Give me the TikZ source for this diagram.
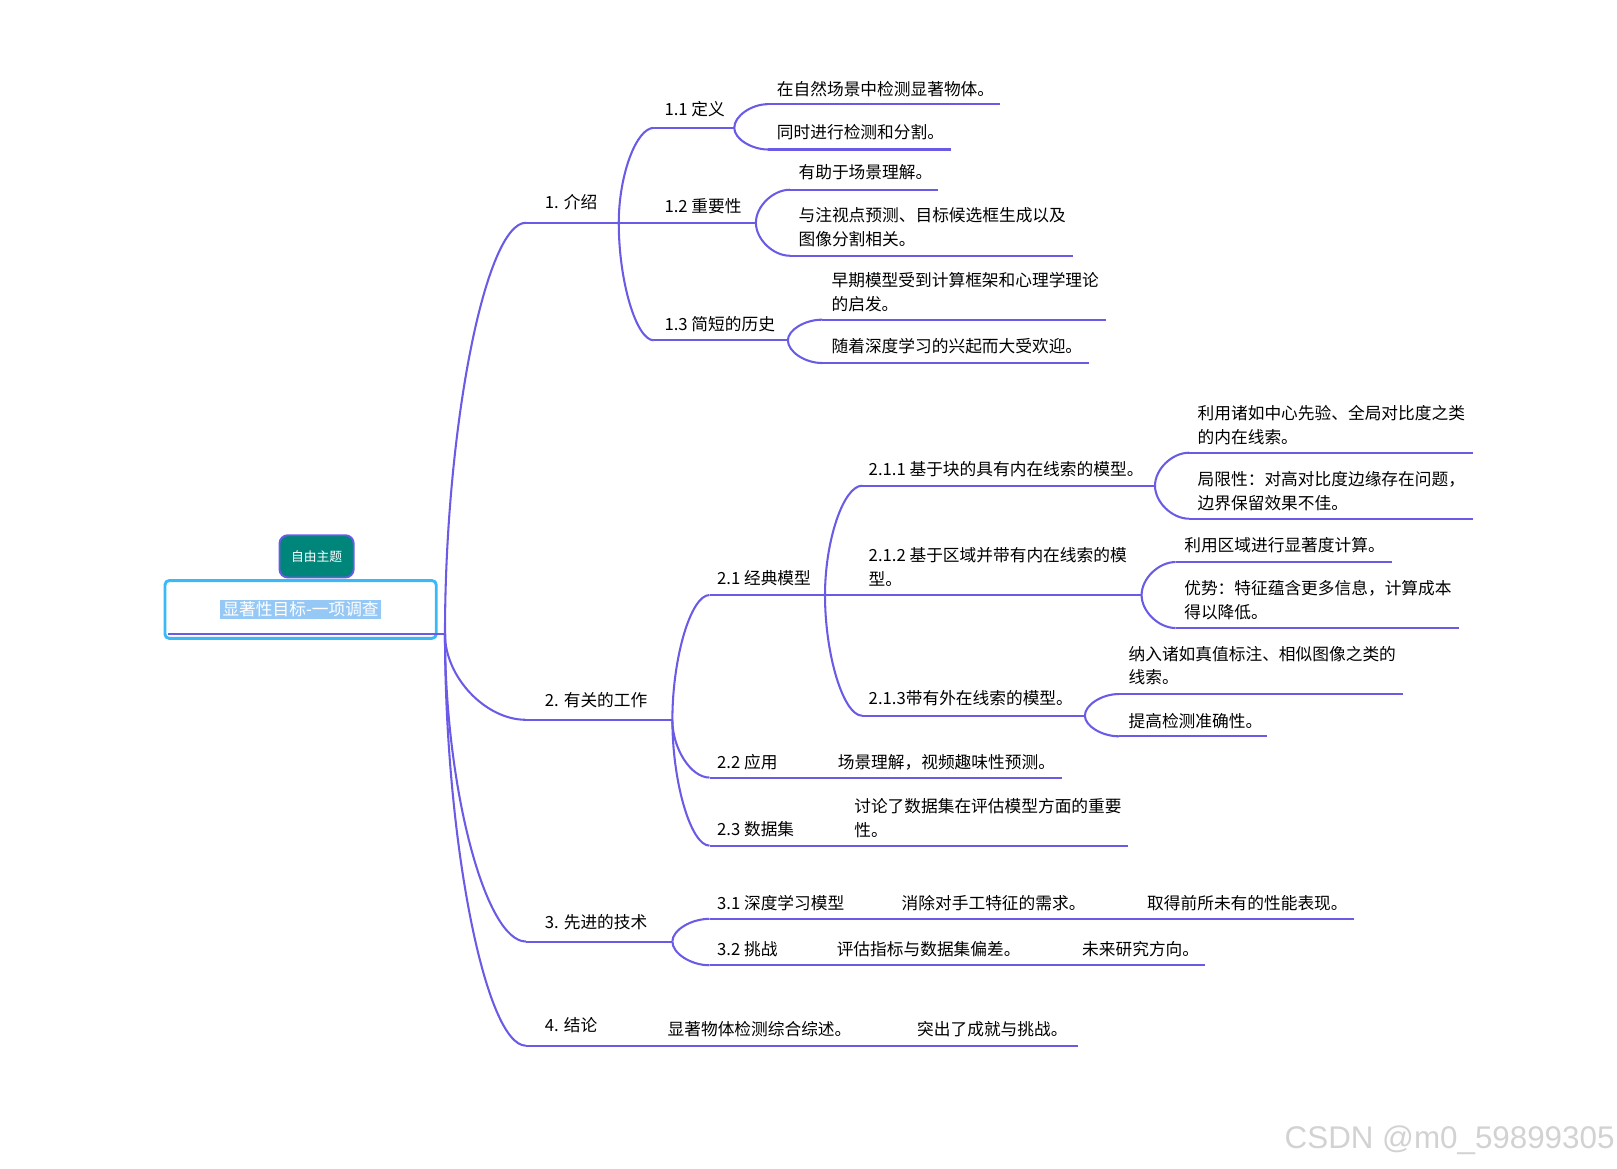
\documentclass[tikz,border=0pt]{standalone}
\usepackage{fontspec}
\setmainfont{Noto Sans CJK SC}
\newfontfamily\wmfont{Liberation Sans}
\usetikzlibrary{calc}
\definecolor{linkc}{HTML}{6A5BE6}
\definecolor{cyanb}{HTML}{3BB9F7}
\definecolor{hl}{HTML}{96C8F5}
\definecolor{teal}{HTML}{00857A}
\newcommand\mmcurve[2]{\draw[link] (#1) .. controls ($(#1)!0.5!(#1|-#2)$) and ($(#2)!0.5!(#1|-#2)$) .. (#2);}
\begin{document}
\begin{tikzpicture}[x=0.5pt,y=-0.5pt,
  link/.style={draw=linkc,line width=1pt},
  lbl/.style={anchor=west,inner sep=0pt,align=left,font=\fontsize{8.1pt}{11.5pt}\selectfont},
  rootbox/.style={draw=cyanb,line width=1.4pt,rounded corners=2pt,minimum width=131.5pt,minimum height=28pt,inner sep=0pt,font=\fontsize{8.1pt}{11.5pt}\selectfont},
  tagbox/.style={draw=linkc,fill=teal,line width=0.9pt,rounded corners=4pt,minimum width=36pt,minimum height=20.5pt,inner sep=0pt,text=white,font=\fontsize{6.2pt}{8pt}\selectfont}]
\useasboundingbox (0,0) rectangle (1568,1133);
% root and tag
\node[rootbox] (root) at (291.5,591) {\fboxsep=1pt\colorbox{hl}{\color{white}显著性目标-一项调查}};
\node[tagbox] (tag) at (307,539.5) {自由主题};
\coordinate (Rl) at (163,615);
\coordinate (R) at (431.5,615);
\draw[link] (Rl) -- (R);
% coordinates of lines
\coordinate (t1s) at (510,216); \coordinate (b1) at (600,216);
\coordinate (t2s) at (510,698); \coordinate (b2) at (652,698);
\coordinate (t3s) at (510,913); \coordinate (b3) at (652,913);
\coordinate (t4s) at (510,1014); \coordinate (t4e) at (1045,1014);
\coordinate (t11s) at (634,124); \coordinate (b11) at (712,124);
\coordinate (b12) at (733,216);
\coordinate (t13s) at (634,330); \coordinate (b13) at (764,330);
\coordinate (t111s) at (745,101); \coordinate (t111e) at (970,101);
\coordinate (t112s) at (745,145); \coordinate (t112e) at (922,145);
\coordinate (t121s) at (766,184); \coordinate (t121e) at (910,184);
\coordinate (t122s) at (766,248); \coordinate (t122e) at (1040,248);
\coordinate (t131s) at (797,310); \coordinate (t131e) at (1072,310);
\coordinate (t132s) at (797,352); \coordinate (t132e) at (1056,352);
\coordinate (t21s) at (688,577); \coordinate (b21) at (800,577);
\coordinate (t22s) at (688,754); \coordinate (t22e) at (1030,754);
\coordinate (t23s) at (688,820); \coordinate (t23e) at (1094,820);
\coordinate (t211s) at (836,471); \coordinate (b211) at (1120,471);
\coordinate (b212) at (1107,577);
\coordinate (t213s) at (836,694); \coordinate (b213) at (1052,694);
\coordinate (t2111s) at (1153,439); \coordinate (t2111e) at (1428,439);
\coordinate (t2112s) at (1153,503); \coordinate (t2112e) at (1428,503);
\coordinate (t2121s) at (1140,545); \coordinate (t2121e) at (1350,545);
\coordinate (t2122s) at (1140,609); \coordinate (t2122e) at (1415,609);
\coordinate (t2131s) at (1085,673); \coordinate (t2131e) at (1360,673);
\coordinate (t2132s) at (1085,714); \coordinate (t2132e) at (1229,714);
\coordinate (t31s) at (688,891); \coordinate (t31e) at (1313,891);
\coordinate (t32s) at (688,936); \coordinate (t32e) at (1168,936);
% connectors
\mmcurve{R}{t1s} \draw[link] (t1s) -- (b1);
\mmcurve{R}{t2s} \draw[link] (t2s) -- (b2);
\mmcurve{R}{t3s} \draw[link] (t3s) -- (b3);
\mmcurve{R}{t4s} \draw[link] (t4s) -- (t4e);
\mmcurve{b1}{t11s} \draw[link] (t11s) -- (b11);
\draw[link] (b1) -- (b12);
\mmcurve{b1}{t13s} \draw[link] (t13s) -- (b13);
\mmcurve{b11}{t111s} \draw[link] (t111s) -- (t111e);
\mmcurve{b11}{t112s} \draw[link] (t112s) -- (t112e);
\mmcurve{b12}{t121s} \draw[link] (t121s) -- (t121e);
\mmcurve{b12}{t122s} \draw[link] (t122s) -- (t122e);
\mmcurve{b13}{t131s} \draw[link] (t131s) -- (t131e);
\mmcurve{b13}{t132s} \draw[link] (t132s) -- (t132e);
\mmcurve{b2}{t21s} \draw[link] (t21s) -- (b21);
\mmcurve{b2}{t22s} \draw[link] (t22s) -- (t22e);
\mmcurve{b2}{t23s} \draw[link] (t23s) -- (t23e);
\mmcurve{b21}{t211s} \draw[link] (t211s) -- (b211);
\draw[link] (b21) -- (b212);
\mmcurve{b21}{t213s} \draw[link] (t213s) -- (b213);
\mmcurve{b211}{t2111s} \draw[link] (t2111s) -- (t2111e);
\mmcurve{b211}{t2112s} \draw[link] (t2112s) -- (t2112e);
\mmcurve{b212}{t2121s} \draw[link] (t2121s) -- (t2121e);
\mmcurve{b212}{t2122s} \draw[link] (t2122s) -- (t2122e);
\mmcurve{b213}{t2131s} \draw[link] (t2131s) -- (t2131e);
\mmcurve{b213}{t2132s} \draw[link] (t2132s) -- (t2132e);
\mmcurve{b3}{t31s} \draw[link] (t31s) -- (t31e);
\mmcurve{b3}{t32s} \draw[link] (t32s) -- (t32e);
% labels
\node[lbl] (n1) at (528,196) {1. 介绍};
\node[lbl] (n2) at (528,679) {2. 有关的工作};
\node[lbl] (n3) at (528,894) {3. 先进的技术};
\node[lbl] (n4) at (528,994) {4. 结论};
\node[lbl] (n11) at (644,106) {1.1 定义};
\node[lbl] (n12) at (644,200) {1.2 重要性};
\node[lbl] (n13) at (644,314) {1.3 简短的历史};
\node[lbl] (n111) at (753,86) {在自然场景中检测显著物体。};
\node[lbl] (n112) at (753,128) {同时进行检测和分割。};
\node[lbl] (n121) at (774,167) {有助于场景理解。};
\node[lbl] (n122) at (774,220.5) {与注视点预测、目标候选框生成以及\\图像分割相关。};
\node[lbl] (n131) at (806,283) {早期模型受到计算框架和心理学理论\\的启发。};
\node[lbl] (n132) at (806,336) {随着深度学习的兴起而大受欢迎。};
\node[lbl] (n21) at (695,561) {2.1 经典模型};
\node[lbl] (n22) at (695,739) {2.2 应用};
\node[lbl] (n23) at (695,804) {2.3 数据集};
\node[lbl] (n211) at (842,455) {2.1.1 基于块的具有内在线索的模型。};
\node[lbl] (n212) at (842,550) {2.1.2 基于区域并带有内在线索的模\\型。};
\node[lbl] (n213) at (842,677) {2.1.3带有外在线索的模型。};
\node[lbl] (n2111) at (1161,412.5) {利用诸如中心先验、全局对比度之类\\的内在线索。};
\node[lbl] (n2112) at (1161,476.5) {局限性：对高对比度边缘存在问题，\\边界保留效果不佳。};
\node[lbl] (n2121) at (1148,529) {利用区域进行显著度计算。};
\node[lbl] (n2122) at (1148,582) {优势：特征蕴含更多信息，计算成本\\得以降低。};
\node[lbl] (n2131) at (1094,645.5) {纳入诸如真值标注、相似图像之类的\\线索。};
\node[lbl] (n2132) at (1094,699) {提高检测准确性。};
\node[lbl] (n221) at (812,739) {场景理解，视频趣味性预测。};
\node[lbl] (n231) at (828,793.5) {讨论了数据集在评估模型方面的重要\\性。};
\node[lbl] (n31) at (695,876) {3.1 深度学习模型};
\node[lbl] (n311) at (874,876) {消除对手工特征的需求。};
\node[lbl] (n312) at (1112,876) {取得前所未有的性能表现。};
\node[lbl] (n32) at (695,920) {3.2 挑战};
\node[lbl] (n321) at (811,920) {评估指标与数据集偏差。};
\node[lbl] (n322) at (1049,920) {未来研究方向。};
\node[lbl] (n41) at (647,998) {显著物体检测综合综述。};
\node[lbl] (n42) at (889,998) {突出了成就与挑战。};
% watermark
\node[anchor=east,inner sep=0pt,text=gray!35,font=\wmfont\fontsize{15.2pt}{18pt}\selectfont] (wm) at (1566,1106) {CSDN @m0\_59899305};
\end{tikzpicture}
\end{document}
